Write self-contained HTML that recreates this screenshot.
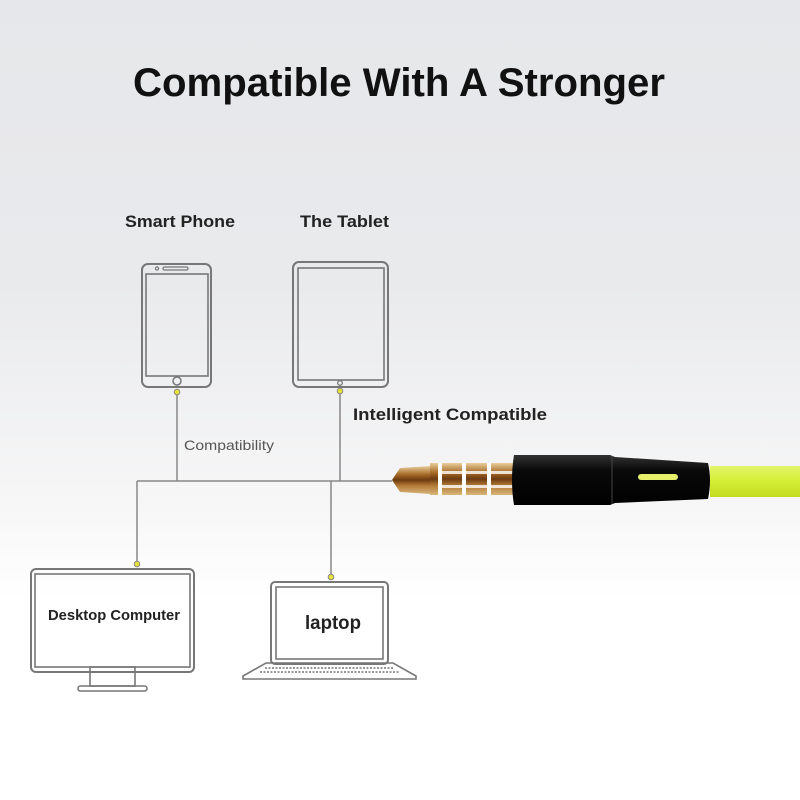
<!DOCTYPE html>
<html><head><meta charset="utf-8"><style>
html,body{margin:0;padding:0;width:800px;height:800px;overflow:hidden}
svg{display:block}
text{font-family:"Liberation Sans",sans-serif}
</style></head><body>
<svg width="800" height="800" viewBox="0 0 800 800" xmlns="http://www.w3.org/2000/svg">
<defs>
<linearGradient id="bg" x1="0" y1="0" x2="0" y2="1">
<stop offset="0" stop-color="#e6e7ea"/><stop offset="0.35" stop-color="#e9eaec"/><stop offset="0.62" stop-color="#f6f6f7"/><stop offset="0.75" stop-color="#ffffff"/><stop offset="1" stop-color="#ffffff"/>
</linearGradient>
<linearGradient id="gold" x1="0" y1="0" x2="0" y2="1">
<stop offset="0" stop-color="#e8cf9c"/><stop offset="0.3" stop-color="#a86a28"/><stop offset="0.5" stop-color="#6b3a10"/><stop offset="0.7" stop-color="#b27a36"/><stop offset="1" stop-color="#d9b57a"/>
</linearGradient>
<linearGradient id="blk" x1="0" y1="0" x2="0" y2="1">
<stop offset="0" stop-color="#333"/><stop offset="0.3" stop-color="#0a0a0a"/><stop offset="1" stop-color="#000"/>
</linearGradient>
<linearGradient id="cab" x1="0" y1="0" x2="0" y2="1">
<stop offset="0" stop-color="#e3f56a"/><stop offset="0.5" stop-color="#d4ee33"/><stop offset="1" stop-color="#c3dc22"/>
</linearGradient>
</defs>
<rect width="800" height="800" fill="url(#bg)"/>
<text x="399" y="96" font-size="40" font-weight="bold" text-anchor="middle" textLength="532" lengthAdjust="spacingAndGlyphs" fill="#111">Compatible With A Stronger</text>
<text x="125" y="227" font-size="17" font-weight="bold" textLength="110" lengthAdjust="spacingAndGlyphs" fill="#222">Smart Phone</text>
<text x="300" y="227" font-size="17" font-weight="bold" textLength="89" lengthAdjust="spacingAndGlyphs" fill="#222">The Tablet</text>
<text x="353" y="420" font-size="17" font-weight="bold" textLength="194" lengthAdjust="spacingAndGlyphs" fill="#222">Intelligent Compatible</text>
<text x="184" y="450" font-size="14" textLength="90" lengthAdjust="spacingAndGlyphs" fill="#555">Compatibility</text>
<g fill="none" stroke="#777" stroke-width="2">
<rect x="142" y="264" width="69" height="123" rx="6"/>
<rect x="146" y="274" width="62" height="102" stroke-width="1.6"/>
<rect x="163" y="267" width="25" height="3" rx="1.5" stroke-width="1.3"/>
<circle cx="157" cy="268.5" r="1.6" stroke-width="1.2"/>
<circle cx="177" cy="381" r="4" stroke-width="1.5"/>
<rect x="293" y="262" width="95" height="125" rx="6"/>
<rect x="298" y="268" width="86" height="112" stroke-width="1.6"/>
<circle cx="340" cy="383" r="2.3" stroke-width="1.3"/>
<rect x="31" y="569" width="163" height="103" rx="5"/>
<rect x="35" y="574" width="155" height="93" stroke-width="1.6"/>
<rect x="90" y="667" width="45" height="19" stroke-width="1.6"/>
<rect x="78" y="686" width="69" height="5" rx="2.5" stroke-width="1.6"/>
<rect x="271" y="582" width="117" height="82" rx="4"/>
<rect x="276" y="587" width="107" height="72" stroke-width="1.6"/>
<path d="M266 663 L393 663 L416 676 L416 679 L243 679 L243 676 Z" stroke-width="1.6"/>
<path d="M265 668 L394 668 M260 672 L399 672" stroke-width="1.4" stroke-dasharray="2 1.5"/>
</g>
<g stroke="#888" stroke-width="1.5" fill="none">
<path d="M177 392 V481 M340 391 V481 M137 481 H392 M137 481 V564 M331 481 V577"/>
</g>
<g fill="#e6e23a" stroke="#888" stroke-width="1">
<circle cx="177" cy="392" r="2.8"/><circle cx="340" cy="391" r="2.8"/>
<circle cx="137" cy="564" r="2.8"/><circle cx="331" cy="577" r="2.8"/>
</g>
<text x="48" y="620" font-size="15" font-weight="bold" textLength="132" lengthAdjust="spacingAndGlyphs" fill="#222">Desktop Computer</text>
<text x="305" y="629" font-size="19" font-weight="bold" textLength="56" lengthAdjust="spacingAndGlyphs" fill="#222">laptop</text>
<rect x="710" y="466" width="92" height="31" fill="url(#cab)"/>
<path d="M392 480 L400 468 L430 466 L430 494 L400 492 Z" fill="url(#gold)"/>
<rect x="430" y="463" width="86" height="32" fill="url(#gold)"/>
<g fill="#fff">
<rect x="438" y="463" width="4" height="32"/><rect x="462" y="463" width="4" height="32"/><rect x="487" y="463" width="4" height="32"/>
<rect x="442" y="471" width="74" height="3" opacity="0.8"/><rect x="442" y="485" width="74" height="3" opacity="0.8"/>
</g>
<path d="M514 455 L610 455 L615 457 L708 463 Q712 480 708 499 L615 503 L610 505 L514 505 Q510 480 514 455 Z" fill="url(#blk)"/>
<line x1="612" y1="456" x2="612" y2="504" stroke="#444" stroke-width="1"/>
<rect x="638" y="474" width="40" height="6" rx="3" fill="#e6f06a"/>
</svg>
</body></html>
